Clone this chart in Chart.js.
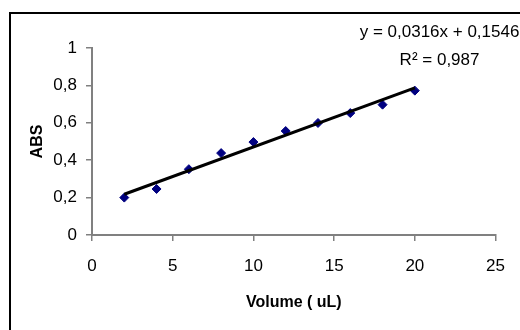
<!DOCTYPE html>
<html>
<head>
<meta charset="utf-8">
<script src="https://cdn.jsdelivr.net/npm/chart.js@4/dist/chart.umd.min.js"></script>
<style>
  html, body { margin: 0; padding: 0; background: #fff; overflow: hidden; }
  #wrap { position: relative; width: 520px; height: 330px; overflow: hidden; }
  #frame { position: absolute; left: 9px; top: 12px; width: 600px; height: 400px; border: 2px solid #000; }
  #chart { position: absolute; left: 0; top: 0; }
</style>
</head>
<body>
<div id="wrap">
  <div id="frame"></div>
  <canvas id="chart" width="520" height="330"></canvas>
</div>
<script>
// measured points
const volumes = [2, 4, 6, 8, 10, 12, 14, 16, 18, 20];
const absValues = [0.2, 0.246, 0.352, 0.438, 0.497, 0.556, 0.599, 0.652, 0.697, 0.772];

// linear trendline ends (from y = 0,0316x + 0,1546)
const trendX = [2, 20];
const trendY = [0.218, 0.787];

const equationLines = ['y = 0,0316x + 0,1546', 'R\u00b2 = 0,987'];

const fontFamily = '"Liberation Sans", Arial, sans-serif';
const axisGray = '#808080';

// trendline equation label, top right
const equationPlugin = {
  id: 'equation',
  afterDraw(chart) {
    const ctx = chart.ctx;
    const area = chart.chartArea;
    ctx.save();
    ctx.fillStyle = '#000';
    ctx.font = '17px ' + fontFamily;
    ctx.textAlign = 'center';
    ctx.textBaseline = 'middle';
    ctx.fillText(equationLines[0], area.right - 56, 32);
    ctx.fillText(equationLines[1], area.right - 56, 60);
    ctx.restore();
  }
};

const ctx = document.getElementById('chart');
new Chart(ctx, {
  type: 'scatter',
  data: {
    datasets: [
      {
        label: 'Trend',
        type: 'line',
        data: trendX.map((x, i) => ({ x: x, y: trendY[i] })),
        borderColor: '#000',
        borderWidth: 3,
        pointRadius: 0,
        fill: false
      },
      {
        label: 'ABS',
        data: volumes.map((v, i) => ({ x: v, y: absValues[i] })),
        pointStyle: 'rectRot',
        pointRadius: 4.5,
        backgroundColor: '#000080',
        borderColor: '#000080',
        borderWidth: 1
      }
    ]
  },
  plugins: [equationPlugin],
  options: {
    responsive: false,
    animation: false,
    layout: { padding: { left: 0, right: 23, top: 48, bottom: 0 } },
    plugins: {
      legend: { display: false },
      tooltip: { enabled: false }
    },
    scales: {
      x: {
        type: 'linear',
        min: 0,
        max: 25,
        afterFit(scale) { scale.height = 95; },
        ticks: {
          stepSize: 5,
          padding: 15,
          color: '#000',
          font: { family: fontFamily, size: 17 }
        },
        grid: { drawOnChartArea: false, drawTicks: true, tickLength: 6, color: axisGray, lineWidth: 1.5 },
        border: { display: true, color: axisGray, width: 2 },
        title: {
          display: true,
          text: 'Volume ( uL)',
          color: '#000',
          font: { family: fontFamily, size: 16, weight: 'bold' },
          padding: { top: 0, bottom: 18 }
        }
      },
      y: {
        type: 'linear',
        min: 0,
        max: 1,
        afterFit(scale) { scale.width = 92; },
        ticks: {
          stepSize: 0.2,
          padding: 9,
          color: '#000',
          font: { family: fontFamily, size: 17 },
          callback: (v) => String(Math.round(v * 10) / 10).replace('.', ',')
        },
        grid: { drawOnChartArea: false, drawTicks: true, tickLength: 6, color: axisGray, lineWidth: 1.5 },
        border: { display: true, color: axisGray, width: 2 },
        title: {
          display: true,
          text: 'ABS',
          color: '#000',
          font: { family: fontFamily, size: 16, weight: 'bold' },
          padding: { top: 28, bottom: 0 }
        }
      }
    }
  }
});
</script>
</body>
</html>
